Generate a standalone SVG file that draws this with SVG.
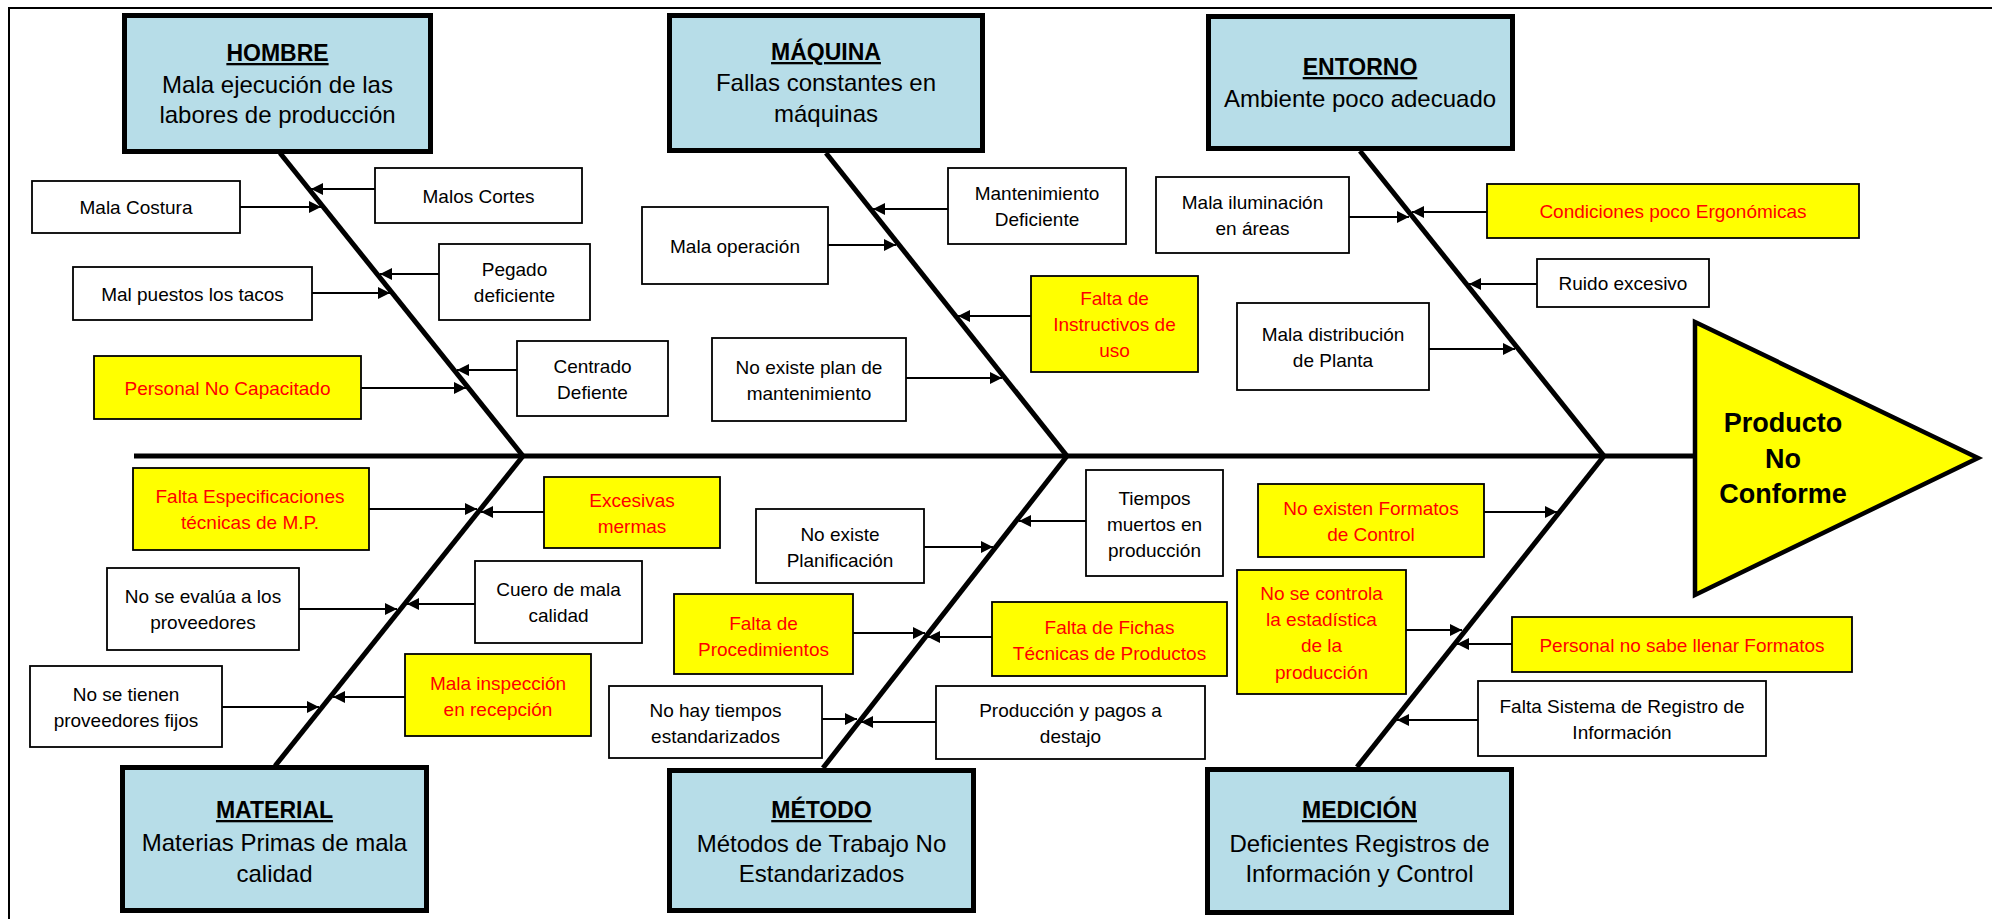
<svg xmlns="http://www.w3.org/2000/svg" width="1992" height="919" viewBox="0 0 1992 919">
  <style>
    .frame { fill: none; stroke: #000; stroke-width: 2; }
    .cat { fill: #B7DDE8; stroke: #000; stroke-width: 5; }
    .box { fill: #FFFFFF; stroke: #000; stroke-width: 1.8; }
    .hl { fill: #FFFF00; stroke: #000; stroke-width: 1.8; }
    .bone { stroke: #000; stroke-width: 5; fill: none; stroke-linecap: butt; }
    .arr { stroke: #000; stroke-width: 1.8; fill: none; marker-end: url(#ah); }
    text { font-family: "Liberation Sans", Arial, sans-serif; text-anchor: middle; fill: #000; }
    .t { font-size: 19px; }
    .red { fill: #FF0000; }
    .ttl { font-size: 23px; font-weight: bold; text-decoration: underline; }
    .desc { font-size: 24px; }
    .eff { font-size: 27px; font-weight: bold; }
  </style>
  <defs>
    <marker id="ah" markerUnits="userSpaceOnUse" markerWidth="13" markerHeight="12" refX="12" refY="6" orient="auto">
      <path d="M0,0 L12,6 L0,12 z" fill="#000"/>
    </marker>
  </defs>

  <rect width="1992" height="919" fill="#FFFFFF"/>
  <path class="frame" d="M9,919 V8 H1992"/>

  <!-- spine and bones -->
  <g id="connectors">
    <line class="bone" x1="134" y1="456" x2="1697" y2="456"/>
    <line class="bone" x1="280" y1="153" x2="523" y2="456"/>
    <line class="bone" x1="826" y1="153" x2="1067" y2="456"/>
    <line class="bone" x1="1360" y1="151" x2="1604" y2="456"/>
    <line class="bone" x1="523" y1="456" x2="275" y2="766"/>
    <line class="bone" x1="1067" y1="456" x2="823" y2="768"/>
    <line class="bone" x1="1604" y1="456" x2="1357" y2="767"/>

    <!-- HOMBRE causes -->
    <line class="arr" x1="240" y1="207" x2="321" y2="207"/>
    <line class="arr" x1="375" y1="189" x2="311" y2="189"/>
    <line class="arr" x1="312" y1="293" x2="390" y2="293"/>
    <line class="arr" x1="439" y1="274" x2="380" y2="274"/>
    <line class="arr" x1="361" y1="388" x2="466" y2="388"/>
    <line class="arr" x1="517" y1="370" x2="457" y2="370"/>
    <!-- MAQUINA causes -->
    <line class="arr" x1="828" y1="245" x2="896" y2="245"/>
    <line class="arr" x1="948" y1="209" x2="873" y2="209"/>
    <line class="arr" x1="1031" y1="316" x2="958" y2="316"/>
    <line class="arr" x1="906" y1="378" x2="1002" y2="378"/>
    <!-- ENTORNO causes -->
    <line class="arr" x1="1349" y1="217" x2="1409" y2="217"/>
    <line class="arr" x1="1487" y1="212" x2="1412" y2="212"/>
    <line class="arr" x1="1537" y1="284" x2="1469" y2="284"/>
    <line class="arr" x1="1429" y1="349" x2="1515" y2="349"/>
    <!-- MATERIAL causes -->
    <line class="arr" x1="369" y1="509" x2="477" y2="509"/>
    <line class="arr" x1="544" y1="512" x2="481" y2="512"/>
    <line class="arr" x1="299" y1="609" x2="397" y2="609"/>
    <line class="arr" x1="475" y1="604" x2="407" y2="604"/>
    <line class="arr" x1="222" y1="707" x2="319" y2="707"/>
    <line class="arr" x1="405" y1="697" x2="333" y2="697"/>
    <!-- METODO causes -->
    <line class="arr" x1="924" y1="547" x2="993" y2="547"/>
    <line class="arr" x1="1086" y1="521" x2="1019" y2="521"/>
    <line class="arr" x1="853" y1="633" x2="925" y2="633"/>
    <line class="arr" x1="992" y1="637" x2="928" y2="637"/>
    <line class="arr" x1="822" y1="719" x2="857" y2="719"/>
    <line class="arr" x1="936" y1="722" x2="861" y2="722"/>
    <!-- MEDICION causes -->
    <line class="arr" x1="1484" y1="512" x2="1557" y2="512"/>
    <line class="arr" x1="1406" y1="630" x2="1462" y2="630"/>
    <line class="arr" x1="1512" y1="644" x2="1457" y2="644"/>
    <line class="arr" x1="1478" y1="720" x2="1397" y2="720"/>
  </g>

  <!-- effect head -->
  <g id="efecto">
    <polygon points="1695,322 1978,458 1695,595" fill="#FFFF00" stroke="#000" stroke-width="4.5" stroke-linejoin="miter"/>
    <text class="eff" x="1783" y="432">Producto</text>
    <text class="eff" x="1783" y="468">No</text>
    <text class="eff" x="1783" y="503">Conforme</text>
  </g>

  <!-- category boxes -->
  <g id="hombre">
    <rect class="cat" x="124.5" y="15.5" width="306" height="136"/>
    <text class="ttl" x="277.5" y="61">HOMBRE</text>
    <text class="desc" x="277.5" y="92.5">Mala ejecución de las</text>
    <text class="desc" x="277.5" y="122.5">labores de producción</text>
  </g>
  <g id="maquina">
    <rect class="cat" x="669.5" y="15.5" width="313" height="135"/>
    <text class="ttl" x="826" y="60">MÁQUINA</text>
    <text class="desc" x="826" y="91">Fallas constantes en</text>
    <text class="desc" x="826" y="122">máquinas</text>
  </g>
  <g id="entorno">
    <rect class="cat" x="1208.5" y="16.5" width="304" height="132"/>
    <text class="ttl" x="1360" y="75">ENTORNO</text>
    <text class="desc" x="1360" y="107">Ambiente poco adecuado</text>
  </g>
  <g id="material">
    <rect class="cat" x="122.5" y="767.5" width="304" height="143"/>
    <text class="ttl" x="274.5" y="818">MATERIAL</text>
    <text class="desc" x="274.5" y="851">Materias Primas de mala</text>
    <text class="desc" x="274.5" y="882">calidad</text>
  </g>
  <g id="metodo">
    <rect class="cat" x="669.5" y="770.5" width="304" height="140"/>
    <text class="ttl" x="821.5" y="818">MÉTODO</text>
    <text class="desc" x="821.5" y="852">Métodos de Trabajo No</text>
    <text class="desc" x="821.5" y="882">Estandarizados</text>
  </g>
  <g id="medicion">
    <rect class="cat" x="1207.5" y="769.5" width="304" height="143"/>
    <text class="ttl" x="1359.5" y="818">MEDICIÓN</text>
    <text class="desc" x="1359.5" y="852">Deficientes Registros de</text>
    <text class="desc" x="1359.5" y="882">Información y Control</text>
  </g>

  <!-- HOMBRE sub-causes -->
  <g id="mala-costura">
    <rect class="box" x="32" y="181" width="208" height="52"/>
    <text class="t" x="136" y="214">Mala Costura</text>
  </g>
  <g id="malos-cortes">
    <rect class="box" x="375" y="168" width="207" height="55"/>
    <text class="t" x="478.5" y="202.5">Malos Cortes</text>
  </g>
  <g id="mal-puestos">
    <rect class="box" x="73" y="267" width="239" height="53"/>
    <text class="t" x="192.5" y="300.5">Mal puestos los tacos</text>
  </g>
  <g id="pegado">
    <rect class="box" x="439" y="244" width="151" height="76"/>
    <text class="t" x="514.5" y="276">Pegado</text>
    <text class="t" x="514.5" y="302">deficiente</text>
  </g>
  <g id="personal-no-capacitado">
    <rect class="hl" x="94" y="356" width="267" height="63"/>
    <text class="t red" x="227.5" y="394.5">Personal No Capacitado</text>
  </g>
  <g id="centrado">
    <rect class="box" x="517" y="341" width="151" height="75"/>
    <text class="t" x="592.5" y="372.5">Centrado</text>
    <text class="t" x="592.5" y="398.5">Defiente</text>
  </g>

  <!-- MAQUINA sub-causes -->
  <g id="mala-operacion">
    <rect class="box" x="642" y="207" width="186" height="77"/>
    <text class="t" x="735" y="252.5">Mala operación</text>
  </g>
  <g id="mantenimiento">
    <rect class="box" x="948" y="168" width="178" height="76"/>
    <text class="t" x="1037" y="200">Mantenimiento</text>
    <text class="t" x="1037" y="226">Deficiente</text>
  </g>
  <g id="instructivos">
    <rect class="hl" x="1031" y="276" width="167" height="96"/>
    <text class="t red" x="1114.5" y="305">Falta de</text>
    <text class="t red" x="1114.5" y="331">Instructivos de</text>
    <text class="t red" x="1114.5" y="357">uso</text>
  </g>
  <g id="plan-mantenimiento">
    <rect class="box" x="712" y="338" width="194" height="83"/>
    <text class="t" x="809" y="373.5">No existe plan de</text>
    <text class="t" x="809" y="399.5">mantenimiento</text>
  </g>

  <!-- ENTORNO sub-causes -->
  <g id="iluminacion">
    <rect class="box" x="1156" y="177" width="193" height="76"/>
    <text class="t" x="1252.5" y="209">Mala iluminación</text>
    <text class="t" x="1252.5" y="235">en áreas</text>
  </g>
  <g id="ergonomicas">
    <rect class="hl" x="1487" y="184" width="372" height="54"/>
    <text class="t red" x="1673" y="218">Condiciones poco Ergonómicas</text>
  </g>
  <g id="ruido">
    <rect class="box" x="1537" y="259" width="172" height="48"/>
    <text class="t" x="1623" y="290">Ruido excesivo</text>
  </g>
  <g id="distribucion">
    <rect class="box" x="1237" y="303" width="192" height="87"/>
    <text class="t" x="1333" y="340.5">Mala distribución</text>
    <text class="t" x="1333" y="366.5">de Planta</text>
  </g>

  <!-- MATERIAL sub-causes -->
  <g id="especificaciones">
    <rect class="hl" x="133" y="468" width="236" height="82"/>
    <text class="t red" x="250" y="503">Falta Especificaciones</text>
    <text class="t red" x="250" y="529">técnicas de M.P.</text>
  </g>
  <g id="mermas">
    <rect class="hl" x="544" y="477" width="176" height="71"/>
    <text class="t red" x="632" y="506.5">Excesivas</text>
    <text class="t red" x="632" y="532.5">mermas</text>
  </g>
  <g id="evaluacion-proveedores">
    <rect class="box" x="107" y="568" width="192" height="82"/>
    <text class="t" x="203" y="603">No se evalúa a los</text>
    <text class="t" x="203" y="629">proveedores</text>
  </g>
  <g id="cuero">
    <rect class="box" x="475" y="561" width="167" height="82"/>
    <text class="t" x="558.5" y="596">Cuero de mala</text>
    <text class="t" x="558.5" y="622">calidad</text>
  </g>
  <g id="proveedores-fijos">
    <rect class="box" x="30" y="666" width="192" height="81"/>
    <text class="t" x="126" y="701">No se tienen</text>
    <text class="t" x="126" y="727">proveedores fijos</text>
  </g>
  <g id="inspeccion">
    <rect class="hl" x="405" y="654" width="186" height="82"/>
    <text class="t red" x="498" y="689.5">Mala inspección</text>
    <text class="t red" x="498" y="715.5">en recepción</text>
  </g>

  <!-- METODO sub-causes -->
  <g id="planificacion">
    <rect class="box" x="756" y="509" width="168" height="74"/>
    <text class="t" x="840" y="540.5">No existe</text>
    <text class="t" x="840" y="566.5">Planificación</text>
  </g>
  <g id="tiempos-muertos">
    <rect class="box" x="1086" y="470" width="137" height="106"/>
    <text class="t" x="1154.5" y="504.5">Tiempos</text>
    <text class="t" x="1154.5" y="530.5">muertos en</text>
    <text class="t" x="1154.5" y="556.5">producción</text>
  </g>
  <g id="procedimientos">
    <rect class="hl" x="674" y="594" width="179" height="80"/>
    <text class="t red" x="763.5" y="629.5">Falta de</text>
    <text class="t red" x="763.5" y="656">Procedimientos</text>
  </g>
  <g id="fichas-tecnicas">
    <rect class="hl" x="992" y="602" width="235" height="74"/>
    <text class="t red" x="1109.5" y="633.5">Falta de Fichas</text>
    <text class="t red" x="1109.5" y="659.5">Técnicas de Productos</text>
  </g>
  <g id="tiempos-estandar">
    <rect class="box" x="609" y="686" width="213" height="72"/>
    <text class="t" x="715.5" y="716.5">No hay tiempos</text>
    <text class="t" x="715.5" y="742.5">estandarizados</text>
  </g>
  <g id="destajo">
    <rect class="box" x="936" y="686" width="269" height="73"/>
    <text class="t" x="1070.5" y="716.5">Producción y pagos a</text>
    <text class="t" x="1070.5" y="742.5">destajo</text>
  </g>

  <!-- MEDICION sub-causes -->
  <g id="formatos-control">
    <rect class="hl" x="1258" y="484" width="226" height="73"/>
    <text class="t red" x="1371" y="515">No existen Formatos</text>
    <text class="t red" x="1371" y="541">de Control</text>
  </g>
  <g id="estadistica">
    <rect class="hl" x="1237" y="570" width="169" height="124"/>
    <text class="t red" x="1321.5" y="599.5">No se controla</text>
    <text class="t red" x="1321.5" y="625.5">la estadística</text>
    <text class="t red" x="1321.5" y="652">de la</text>
    <text class="t red" x="1321.5" y="678.5">producción</text>
  </g>
  <g id="llenar-formatos">
    <rect class="hl" x="1512" y="617" width="340" height="55"/>
    <text class="t red" x="1682" y="651.5">Personal no sabe llenar Formatos</text>
  </g>
  <g id="sistema-registro">
    <rect class="box" x="1478" y="681" width="288" height="75"/>
    <text class="t" x="1622" y="712.5">Falta Sistema de Registro de</text>
    <text class="t" x="1622" y="738.5">Información</text>
  </g>
</svg>
